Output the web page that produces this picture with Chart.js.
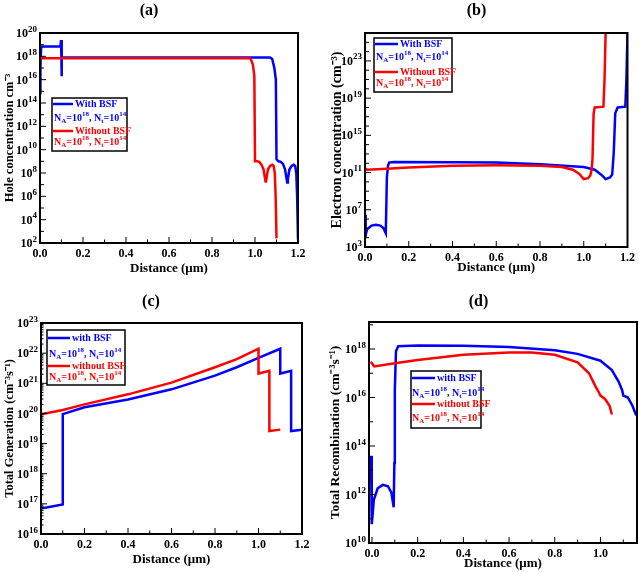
<!DOCTYPE html>
<html>
<head>
<meta charset="utf-8">
<script src="https://cdn.jsdelivr.net/npm/chart.js@4"></script>
<style>
body { margin: 0; background: #fff; }
#wrap { position: relative; width: 639px; height: 572px; }
canvas { position: absolute; }
</style>
</head>
<body>
<div id="wrap">
  <canvas id="ca" width="320" height="286" style="left:0;top:0"></canvas>
  <canvas id="cb" width="319" height="286" style="left:320px;top:0"></canvas>
  <canvas id="cc" width="320" height="286" style="left:0;top:286px"></canvas>
  <canvas id="cd" width="319" height="286" style="left:320px;top:286px"></canvas>
</div>
<script>
// (a) hole concentration
const aBlueX = [0, 0.002, 0.005, 0.01, 0.095, 0.098, 0.1, 0.102, 0.5, 1.0, 1.07, 1.08, 1.09, 1.097, 1.1, 1.11, 1.12, 1.13, 1.14, 1.147, 1.15, 1.153, 1.16, 1.17, 1.18, 1.187, 1.192, 1.196, 1.2];
const aBlueY = [7e14, 1e17, 5e18, 7e18, 7e18, 2.5e19, 2e16, 8e17, 8e17, 8e17, 8e17, 6e17, 1e17, 1e16, 1.5e9, 1e9, 9e8, 6e8, 2e8, 3e7, 1.5e7, 3e7, 2e8, 4e8, 5e8, 4e8, 1e8, 1e6, 2e2];
const aRedX = [0, 0.005, 0.97, 0.98, 0.99, 0.997, 1.0, 1.01, 1.02, 1.03, 1.04, 1.047, 1.05, 1.053, 1.06, 1.07, 1.08, 1.087, 1.092, 1.096, 1.1];
const aRedY = [4e17, 7e17, 7e17, 6e17, 2e17, 2e16, 1e9, 1e9, 9e8, 5e8, 2e8, 3e7, 1.5e7, 3e7, 2e8, 4e8, 5e8, 4e8, 1e8, 1e6, 2.5e2];

// (b) electron concentration
const bBlueX = [0, 0.002, 0.004, 0.01, 0.03, 0.05, 0.07, 0.085, 0.095, 0.1, 0.105, 0.11, 0.13, 0.4, 0.6, 0.8, 1.0, 1.05, 1.08, 1.1, 1.12, 1.13, 1.137, 1.144, 1.155, 1.19, 1.195, 1.2];
const bBlueY = [3e6, 1e4, 2e4, 8e4, 2e5, 2.5e5, 2e5, 1e5, 3e4, 3e10, 5e11, 1.2e12, 1.4e12, 1.3e12, 1.2e12, 8e11, 4e11, 2e11, 6e10, 2e10, 3e10, 6e10, 1.2e13, 2.3e17, 1e18, 1.2e18, 1e21, 1e26];
const bRedX = [0, 0.01, 0.1, 0.2, 0.4, 0.6, 0.8, 0.9, 0.95, 0.98, 1.0, 1.02, 1.03, 1.036, 1.04, 1.045, 1.05, 1.09, 1.095, 1.1];
const bRedY = [3e11, 2e11, 2.5e11, 3.5e11, 5.5e11, 6e11, 5.5e11, 4e11, 2e11, 7e10, 2e10, 2.5e10, 5e10, 2e11, 3e12, 2e17, 1e18, 1.2e18, 1e21, 1e26];

// (c) total generation
const cBlueX = [0, 0.1, 0.1, 0.2, 0.4, 0.6, 0.8, 0.9, 1.0, 1.1, 1.1, 1.15, 1.15, 1.2];
const cBlueY = [7e16, 9.5e16, 9.5e19, 1.6e20, 2.9e20, 6.3e20, 1.8e21, 3.4e21, 7e21, 1.4e22, 2.1e21, 2.6e21, 2.6e19, 2.9e19];
const cRedX = [0, 0.1, 0.2, 0.4, 0.6, 0.8, 0.9, 1.0, 1.0, 1.05, 1.05, 1.1];
const cRedY = [9.3e19, 1.3e20, 2e20, 4.3e20, 1.05e21, 3.4e21, 6.3e21, 1.4e22, 2.1e21, 2.6e21, 2.6e19, 2.9e19];

// (d) total recombination
const dBlueX = [-0.004, -0.002, 0, 0.003, 0.008, 0.025, 0.048, 0.07, 0.085, 0.095, 0.098, 0.1, 0.105, 0.115, 0.2, 0.4, 0.6, 0.8, 0.9, 1.0, 1.05, 1.08, 1.095, 1.1, 1.12, 1.14, 1.155, 1.16];
const dBlueY = [4e13, 1e12, 6e10, 1.5e11, 6e11, 1.8e12, 2.5e12, 2.2e12, 1.2e12, 3e11, 2e13, 2e16, 8e17, 1.3e18, 1.4e18, 1.35e18, 1.2e18, 8.8e17, 6.3e17, 3.3e17, 1.35e17, 4.4e16, 2e16, 1.2e16, 1e16, 4.6e15, 2e15, 2e15];
const dRedX = [-0.005, 0.01, 0.1, 0.2, 0.4, 0.6, 0.7, 0.8, 0.9, 0.95, 0.98, 0.995, 1.0, 1.02, 1.04, 1.05];
const dRedY = [3e17, 1.9e17, 2.6e17, 3.5e17, 5.8e17, 7.2e17, 7.2e17, 5.8e17, 2.8e17, 1e17, 2.7e16, 1.5e16, 1.2e16, 8.7e15, 4.6e15, 2e15];

const xTicksFull = [0, 0.2, 0.4, 0.6, 0.8, 1.0, 1.2];
const xTicksD = [0, 0.2, 0.4, 0.6, 0.8, 1.0];

const FONT = "'Liberation Serif', 'Times New Roman', serif";
const BLUE = '#0000ff';
const RED = '#ff0000';

const pts = (xs, ys) => xs.map((x, i) => ({ x: x, y: ys[i] }));

// draws text made of normal / sub / sup pieces, returns width
function richText(ctx, x, y, parts, size, measureOnly) {
  let w = 0;
  parts.forEach(p => {
    const k = p[1];
    const s = k ? Math.round(size * 0.72) : size;
    ctx.font = `bold ${s}px ${FONT}`;
    const dy = k === 'sub' ? size * 0.3 : k === 'sup' ? -size * 0.4 : 0;
    if (!measureOnly) ctx.fillText(p[0], x + w, y + dy);
    w += ctx.measureText(p[0]).width;
  });
  return w;
}

const nLine = [['N'], ['A', 'sub'], ['=10'], ['18', 'sup'], [', N'], ['t', 'sub'], ['=10'], ['14', 'sup']];

const framePlugin = {
  id: 'frame',
  afterDatasetsDraw(chart) {
    const o = chart.config.options.frameOpts;
    const { ctx, chartArea: a, scales } = chart;
    ctx.save();
    ctx.strokeStyle = '#000';
    const tick = (x1, y1, x2, y2) => { ctx.beginPath(); ctx.moveTo(x1, y1); ctx.lineTo(x2, y2); ctx.stroke(); };
    ctx.lineWidth = 1;
    for (let e = o.yLo; e <= o.yHi; e++) {
      for (let m = 1; m < 10; m++) {
        if (m > 1 && !o.fineMinor) break;
        const p = scales.y.getPixelForValue(m * Math.pow(10, e));
        if (p < a.top || p > a.bottom) continue;
        const len = o.yExps.includes(e) && m === 1 ? 6 : (m === 1 ? 4 : 2.5);
        tick(a.left, p, a.left + len, p);
      }
    }
    for (let i = 0; i <= 12; i++) {
      const v = i / 10;
      const p = scales.x.getPixelForValue(v);
      if (p < a.left - 0.5 || p > a.right + 0.5) continue;
      tick(p, a.bottom, p, a.bottom - (i % 2 === 0 ? 6 : 3.5));
    }
    ctx.lineWidth = 2;
    ctx.strokeRect(a.left, a.top, a.right - a.left, a.bottom - a.top);

    // y tick labels 10^n
    ctx.fillStyle = '#000';
    ctx.textBaseline = 'middle';
    ctx.textAlign = 'left';
    o.yExps.forEach(e => {
      const p = scales.y.getPixelForValue(Math.pow(10, e));
      const parts = [['10'], [String(e), 'sup']];
      const w = richText(ctx, 0, 0, parts, 12, true);
      richText(ctx, a.left - 3 - w, p + 1, parts, 12);
    });

    // legend box
    const L = o.legend;
    ctx.fillStyle = '#fff';
    ctx.fillRect(L.x1, L.y1, L.x2 - L.x1, L.y2 - L.y1);
    ctx.lineWidth = 1.5;
    ctx.strokeRect(L.x1, L.y1, L.x2 - L.x1, L.y2 - L.y1);
    const rows = [[BLUE, L.names[0], L.rows[0], L.rows[1]], [RED, L.names[1], L.rows[2], L.rows[3]]];
    rows.forEach(r => {
      ctx.strokeStyle = r[0];
      ctx.fillStyle = r[0];
      ctx.lineWidth = 2.5;
      tick(L.lx1, r[2], L.lx2, r[2]);
      ctx.font = `bold 10px ${FONT}`;
      ctx.fillText(r[1], L.lx2 + 2, r[2]);
      richText(ctx, L.nx, r[3], nLine, 10);
    });
    ctx.restore();
  }
};

function makeChart(id, c) {
  const cv = document.getElementById(id);
  new Chart(cv, {
    type: 'line',
    data: {
      datasets: [
        { label: c.names[1], data: pts(c.redX, c.redY), borderColor: RED, borderWidth: 2.5, pointRadius: 0, order: 0 },
        { label: c.names[0], data: pts(c.blueX, c.blueY), borderColor: BLUE, borderWidth: 2.5, pointRadius: 0, order: 1 }
      ]
    },
    options: {
      responsive: false,
      animation: false,
      devicePixelRatio: 1,
      layout: { padding: { left: 0, right: cv.width - c.area.right, top: 0, bottom: 0 } },
      plugins: {
        legend: { display: false },
        tooltip: { enabled: false },
        title: {
          display: true, text: c.title, color: '#000',
          font: { family: FONT, size: 16, weight: 'bold', lineHeight: 1.2 },
          padding: { top: c.titlePad, bottom: c.area.top - c.titlePad - 19.2 }
        }
      },
      scales: {
        x: {
          type: 'linear', min: c.xMin, max: c.xMax,
          grid: { display: false, drawTicks: false }, border: { display: false },
          afterBuildTicks: s => { s.ticks = c.xTicks.map(v => ({ value: v })); },
          afterFit: s => { s.height = cv.height - c.area.bottom; },
          ticks: { color: '#000', padding: 4, maxRotation: 0, font: { family: FONT, size: 12, weight: 'bold' }, callback: v => v.toFixed(1) },
          title: { display: true, text: 'Distance (μm)', color: '#000', padding: { top: 0, bottom: c.xTitlePad }, font: { family: FONT, size: 13, weight: 'bold' } }
        },
        y: {
          type: 'logarithmic', min: c.yMin, max: c.yMax,
          grid: { display: false, drawTicks: false }, border: { display: false },
          afterBuildTicks: s => { s.ticks = c.yExps.map(e => ({ value: Math.pow(10, e) })); },
          afterFit: s => { s.width = c.area.left; },
          ticks: { display: false },
          title: { display: true, text: c.yTitle, color: '#000', padding: { top: c.yTitlePad, bottom: 0 }, font: { family: FONT, size: c.yTitleSize, weight: 'bold' } }
        }
      },
      frameOpts: { yExps: c.yExps, yLo: c.yLo, yHi: c.yHi, fineMinor: c.fineMinor, legend: c.legend }
    },
    plugins: [framePlugin]
  });
}

makeChart('ca', {
  title: '(a)', titlePad: 1, xTitlePad: 10, yTitlePad: 2, yTitleSize: 12.5, area: { left: 40, right: 298, top: 33, bottom: 243 },
  xMin: 0, xMax: 1.2, xTicks: xTicksFull, yMin: 1e2, yMax: 1e20, yExps: [2, 4, 6, 8, 10, 12, 14, 16, 18, 20], yLo: 2, yHi: 20,
  yTitle: 'Hole concentration cm⁻³', names: ['With BSF', 'Without BSF'],
  blueX: aBlueX, blueY: aBlueY, redX: aRedX, redY: aRedY,
  legend: { x1: 52, y1: 98, x2: 127, y2: 151, lx1: 53, lx2: 73, nx: 54, rows: [104, 118, 131, 142], names: ['With BSF', 'Without BSF'] }
});
makeChart('cb', {
  title: '(b)', titlePad: 1, xTitlePad: 11, yTitlePad: 9, yTitleSize: 14, area: { left: 45, right: 313, top: 33, bottom: 247 },
  xMin: 0, xMax: 1.2, xTicks: xTicksFull, yMin: 1e3, yMax: 1e26, yExps: [3, 7, 11, 15, 19, 23], yLo: 3, yHi: 26,
  yTitle: 'Electron concentration (cm⁻³)', names: ['With BSF', 'Without BSF'],
  blueX: bBlueX, blueY: bBlueY, redX: bRedX, redY: bRedY,
  legend: { x1: 54, y1: 38, x2: 132, y2: 92, lx1: 55, lx2: 78, nx: 56, rows: [44, 57, 72, 83], names: ['With BSF', 'Without BSF'] }
});
makeChart('cc', {
  title: '(c)', titlePad: 6, xTitlePad: 5, yTitlePad: 2, yTitleSize: 12.5, area: { left: 41, right: 302, top: 37, bottom: 248 },
  xMin: 0, xMax: 1.2, xTicks: xTicksFull, yMin: 1e16, yMax: 1e23, yExps: [16, 17, 18, 19, 20, 21, 22, 23], yLo: 16, yHi: 23, fineMinor: true,
  yTitle: 'Total Generation (cm⁻³s⁻¹)', names: ['with BSF', 'without BSF'],
  blueX: cBlueX, blueY: cBlueY, redX: cRedX, redY: cRedY,
  legend: { x1: 47, y1: 44, x2: 125, y2: 99, lx1: 48, lx2: 70, nx: 49, rows: [52, 68, 80, 91], names: ['with BSF', 'without BSF'] }
});
makeChart('cd', {
  title: '(d)', titlePad: 6, xTitlePad: 1, yTitlePad: 7, yTitleSize: 13.5, area: { left: 49, right: 317, top: 36, bottom: 257 },
  xMin: -0.013, xMax: 1.16, xTicks: xTicksD, yMin: 1e10, yMax: 1.3e19, yExps: [10, 12, 14, 16, 18], yLo: 10, yHi: 19,
  yTitle: 'Total Recombination (cm⁻³s⁻¹)', names: ['with BSF', 'without BSF'],
  blueX: dBlueX, blueY: dBlueY, redX: dRedX, redY: dRedY,
  legend: { x1: 91, y1: 85, x2: 161, y2: 142, lx1: 92, lx2: 115, nx: 92, rows: [92, 107, 118, 132], names: ['with BSF', 'without BSF'] }
});
</script>
</body>
</html>
